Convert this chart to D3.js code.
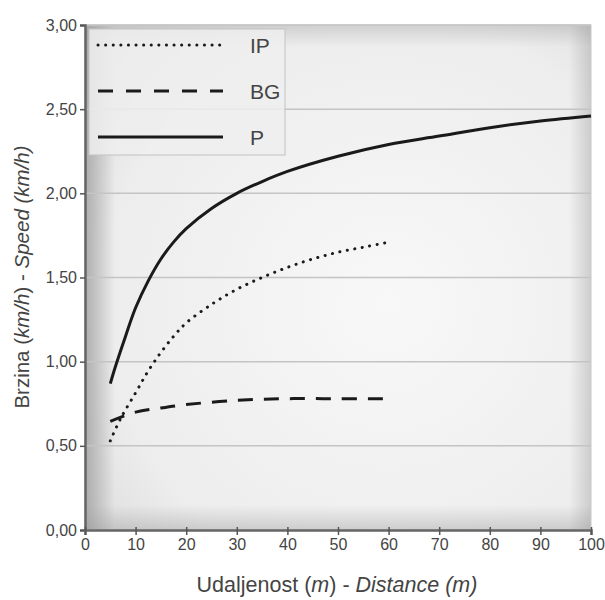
<!DOCTYPE html>
<html>
<head>
<meta charset="utf-8">
<script src="https://cdn.jsdelivr.net/npm/d3@7"></script>
<style>
  body { margin: 0; background: #fff; }
  text { font-family: "Liberation Sans", Arial, sans-serif; fill: #444; }
</style>
</head>
<body>
<svg id="chart" width="605" height="600"></svg>
<script>
// values
const xTicks = [0, 10, 20, 30, 40, 50, 60, 70, 80, 90, 100];
const yTicks = [0, 0.5, 1, 1.5, 2, 2.5, 3];

const pX = [5, 6, 8, 10, 12.5, 15, 17.5, 20, 25, 30, 35, 40, 50, 60, 70, 80, 90, 100];
const pY = [0.87, 0.97, 1.15, 1.32, 1.48, 1.61, 1.71, 1.79, 1.91, 2.00, 2.07, 2.13, 2.22, 2.29, 2.34, 2.39, 2.43, 2.46];

const ipX = [5, 7, 10, 12.5, 15, 17.5, 20, 25, 30, 35, 40, 45, 50, 55, 60];
const ipY = [0.53, 0.66, 0.815, 0.945, 1.055, 1.15, 1.23, 1.34, 1.43, 1.50, 1.56, 1.61, 1.65, 1.68, 1.71];

const bgX = [5, 10, 15, 20, 30, 40, 50, 60];
const bgY = [0.645, 0.70, 0.725, 0.745, 0.77, 0.78, 0.78, 0.78];

const seriesNames = ["IP", "BG", "P"];

const svg = d3.select("#chart");
const margin = { left: 85, right: 14, top: 25, bottom: 70 };
const W = 605, H = 600;

const x = d3.scaleLinear().domain([0, 100]).range([margin.left, W - margin.right]);
const y = d3.scaleLinear().domain([0, 3]).range([H - margin.bottom, margin.top]);

const pw = x(100) - x(0), ph = y(0) - y(3);

//  background of the plot area: light centre, darker edges
const defs = svg.append("defs");
const grad = defs.append("radialGradient").attr("id", "bgGrad")
    .attr("cx", "60%").attr("cy", "55%").attr("r", "75%");
grad.append("stop").attr("offset", "0%").attr("stop-color", "#f8f8f8");
grad.append("stop").attr("offset", "75%").attr("stop-color", "#ededed");
grad.append("stop").attr("offset", "100%").attr("stop-color", "#dcdcdc");

function edgeGrad(id, x1, y1, x2, y2, op) {
    const g = defs.append("linearGradient").attr("id", id)
        .attr("x1", x1).attr("y1", y1).attr("x2", x2).attr("y2", y2);
    g.append("stop").attr("offset", "0%").attr("stop-color", "#9a9a9a").attr("stop-opacity", op);
    g.append("stop").attr("offset", "100%").attr("stop-color", "#9a9a9a").attr("stop-opacity", 0);
}
edgeGrad("eLeft", 0, 0, 1, 0, 0.75);
edgeGrad("eRight", 1, 0, 0, 0, 0.4);
edgeGrad("eTop", 0, 0, 0, 1, 0.35);
edgeGrad("eBottom", 0, 1, 0, 0, 0.4);

svg.append("rect")
    .attr("x", x(0)).attr("y", y(3))
    .attr("width", pw).attr("height", ph)
    .attr("fill", "url(#bgGrad)");

svg.append("rect").attr("x", x(0)).attr("y", y(3)).attr("width", 30).attr("height", ph).attr("fill", "url(#eLeft)");
svg.append("rect").attr("x", x(100) - 22).attr("y", y(3)).attr("width", 22).attr("height", ph).attr("fill", "url(#eRight)");
svg.append("rect").attr("x", x(0)).attr("y", y(3)).attr("width", pw).attr("height", 22).attr("fill", "url(#eTop)");
svg.append("rect").attr("x", x(0)).attr("y", y(0) - 25).attr("width", pw).attr("height", 25).attr("fill", "url(#eBottom)");

svg.append("rect")
    .attr("x", x(0)).attr("y", y(3))
    .attr("width", pw).attr("height", ph)
    .attr("fill", "none")
    .attr("stroke", "#c8c8c8");

//  grid lines
svg.append("g")
    .selectAll("line")
    .data(yTicks.filter(d => d > 0))
    .join("line")
    .attr("x1", x(0)).attr("x2", x(100))
    .attr("y1", d => y(d)).attr("y2", d => y(d))
    .attr("stroke", "#c4c4c4").attr("stroke-width", 1.5);

//  axes
const fmt = d => d.toFixed(2).replace(".", ",");

const yAxis = svg.append("g")
    .attr("transform", `translate(${x(0)},0)`)
    .call(d3.axisLeft(y).tickValues(yTicks).tickFormat(fmt).tickSize(5).tickPadding(3));

const xAxis = svg.append("g")
    .attr("transform", `translate(0,${y(0)})`)
    .call(d3.axisBottom(x).tickValues(xTicks).tickSize(5).tickPadding(4));

[yAxis, xAxis].forEach(g => {
    g.select(".domain").attr("stroke", "#666").attr("stroke-width", 2.5);
    g.selectAll(".tick line").attr("stroke", "#555").attr("stroke-width", 1.5);
    g.selectAll(".tick text").attr("font-size", 16).attr("fill", "#4a4a4a")
        .attr("font-family", "Liberation Sans, Arial, sans-serif");
});
xAxis.selectAll(".tick line").attr("y1", -3);

//  series lines
const line = d3.line().x(d => x(d[0])).y(d => y(d[1])).curve(d3.curveCatmullRom.alpha(0.5));

const series = [
    { name: "IP", pts: d3.zip(ipX, ipY), dash: "0.1,7.5", cap: "round" },
    { name: "BG", pts: d3.zip(bgX, bgY), dash: "15,11", cap: "butt" },
    { name: "P", pts: d3.zip(pX, pY), dash: null, cap: "butt" }
];

svg.append("g")
    .selectAll("path")
    .data(series)
    .join("path")
    .attr("d", d => line(d.pts))
    .attr("fill", "none")
    .attr("stroke", "#1a1a1a")
    .attr("stroke-width", 3)
    .attr("stroke-linecap", d => d.cap)
    .attr("stroke-dasharray", d => d.dash);

//  legend
const legend = svg.append("g").attr("transform", "translate(89,29)");
legend.append("rect")
    .attr("width", 196).attr("height", 126)
    .attr("fill", "#efefef").attr("fill-opacity", 0.85)
    .attr("stroke", "#c2c2c2");

const item = legend.selectAll("g.item")
    .data(series)
    .join("g")
    .attr("class", "item")
    .attr("transform", (d, i) => `translate(0,${16 + i * 46})`);

item.append("line")
    .attr("x1", 9).attr("x2", 134)
    .attr("stroke", "#1a1a1a")
    .attr("stroke-width", 3)
    .attr("stroke-linecap", d => d.cap)
    .attr("stroke-dasharray", d => d.name === "BG" ? "15,13" : d.dash);

item.append("text")
    .attr("x", 161).attr("y", 8)
    .attr("font-size", 21)
    .text((d, i) => seriesNames[i]);

//  axis titles
const xt = svg.append("text")
    .attr("x", 337).attr("y", 592)
    .attr("text-anchor", "middle")
    .attr("font-size", 21.5);
xt.append("tspan").text("Udaljenost (");
xt.append("tspan").attr("font-style", "italic").text("m");
xt.append("tspan").text(") -  ");
xt.append("tspan").attr("font-style", "italic").text("Distance (m)");

const yt = svg.append("text")
    .attr("transform", `translate(29,277) rotate(-90)`)
    .attr("text-anchor", "middle")
    .attr("font-size", 20.5);
yt.append("tspan").text("Brzina (");
yt.append("tspan").attr("font-style", "italic").text("km/h");
yt.append("tspan").text(") - ");
yt.append("tspan").attr("font-style", "italic").text("Speed (km/h)");
</script>
</body>
</html>
